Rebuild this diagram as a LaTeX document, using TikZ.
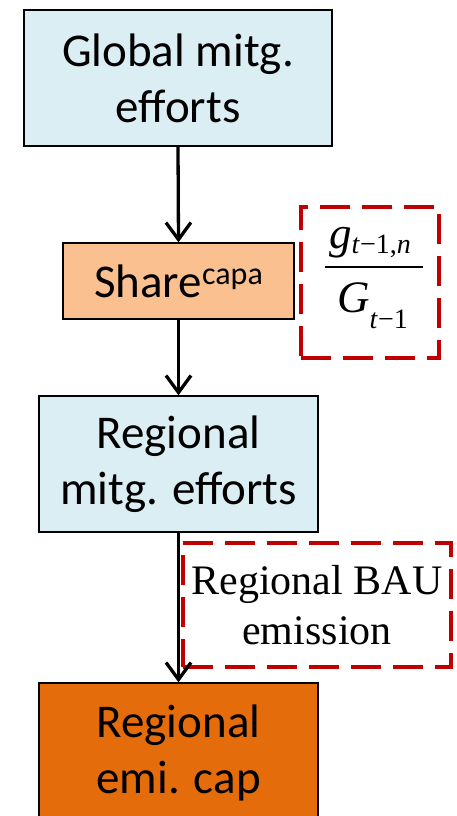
\documentclass[tikz,border=0pt]{standalone}
\usepackage[no-math]{fontspec}
\setmainfont{Carlito}
\newfontfamily\tnr{Liberation Serif}
\usetikzlibrary{arrows.meta}
\definecolor{boxblue}{HTML}{DBEEF4}
\definecolor{boxpeach}{HTML}{FAC090}
\definecolor{boxorange}{HTML}{E46C0A}
\definecolor{dashred}{HTML}{C00000}
\newcommand{\subfont}{\fontsize{28}{28}\selectfont}
\begin{document}
\begin{tikzpicture}[x=1pt,y=-1pt,
  blk/.style={draw=black, line width=1.4pt, inner sep=0pt, align=center,
    font=\fontsize{47}{56}\selectfont},
  note/.style={draw=dashred, line width=3.4pt, dash pattern=on 30pt off 12pt,
    inner sep=0pt, align=center},
  flow/.style={draw=black, line width=3.3pt,
    -{Straight Barb[length=17pt,width=25pt,line width=3.3pt]}}
]
\useasboundingbox (0,0) rectangle (456,816);
% dashed notes
\node[note, minimum width=138pt, minimum height=151pt, text height=59pt, text depth=0pt,
  font=\tnr\fontsize{45}{45}\selectfont] (frac) at (370,282.5)
  {\vbox{\offinterlineskip\hsize=106pt
     \hbox to 106pt{\hss\smash{\textit{g}\raisebox{-5pt}{\subfont\textit{t}−1,\textit{n}}}\hss}
     \kern18pt
     \hbox to 106pt{\hskip8pt\vrule height 2pt depth 0pt width 98pt\hss}
     \kern44pt
     \hbox to 106pt{\hskip5pt\hss\smash{\textit{G}\raisebox{-16pt}{\subfont\textit{t}−1}}\hss}}};
\node[note, minimum width=268pt, minimum height=124pt,
  font=\tnr\fontsize{42}{50}\selectfont] (bau) at (317,605)
  {Regional BAU\\emission};
% main blocks
\node[blk, fill=boxblue, minimum width=308pt, minimum height=136pt] (global) at (178,78)
  {Global mitg.\\efforts};
\node[blk, fill=boxpeach, minimum width=231pt, minimum height=76pt] (share) at (178.5,281)
  {Share\raisebox{13pt}{\fontsize{32}{32}\selectfont capa}};
\node[blk, fill=boxblue, minimum width=279pt, minimum height=136pt] (regmit) at (178.5,464)
  {Regional\\mitg. efforts};
\node[blk, fill=boxorange, minimum width=279pt, minimum height=140pt] (cap) at (178.5,753)
  {Regional\\emi. cap};
% connectors
\draw[flow] (global.south) -- (share.north);
\draw[flow] (share.south) -- (regmit.north);
\draw[flow] (regmit.south) -- (cap.north);
\end{tikzpicture}
\end{document}
